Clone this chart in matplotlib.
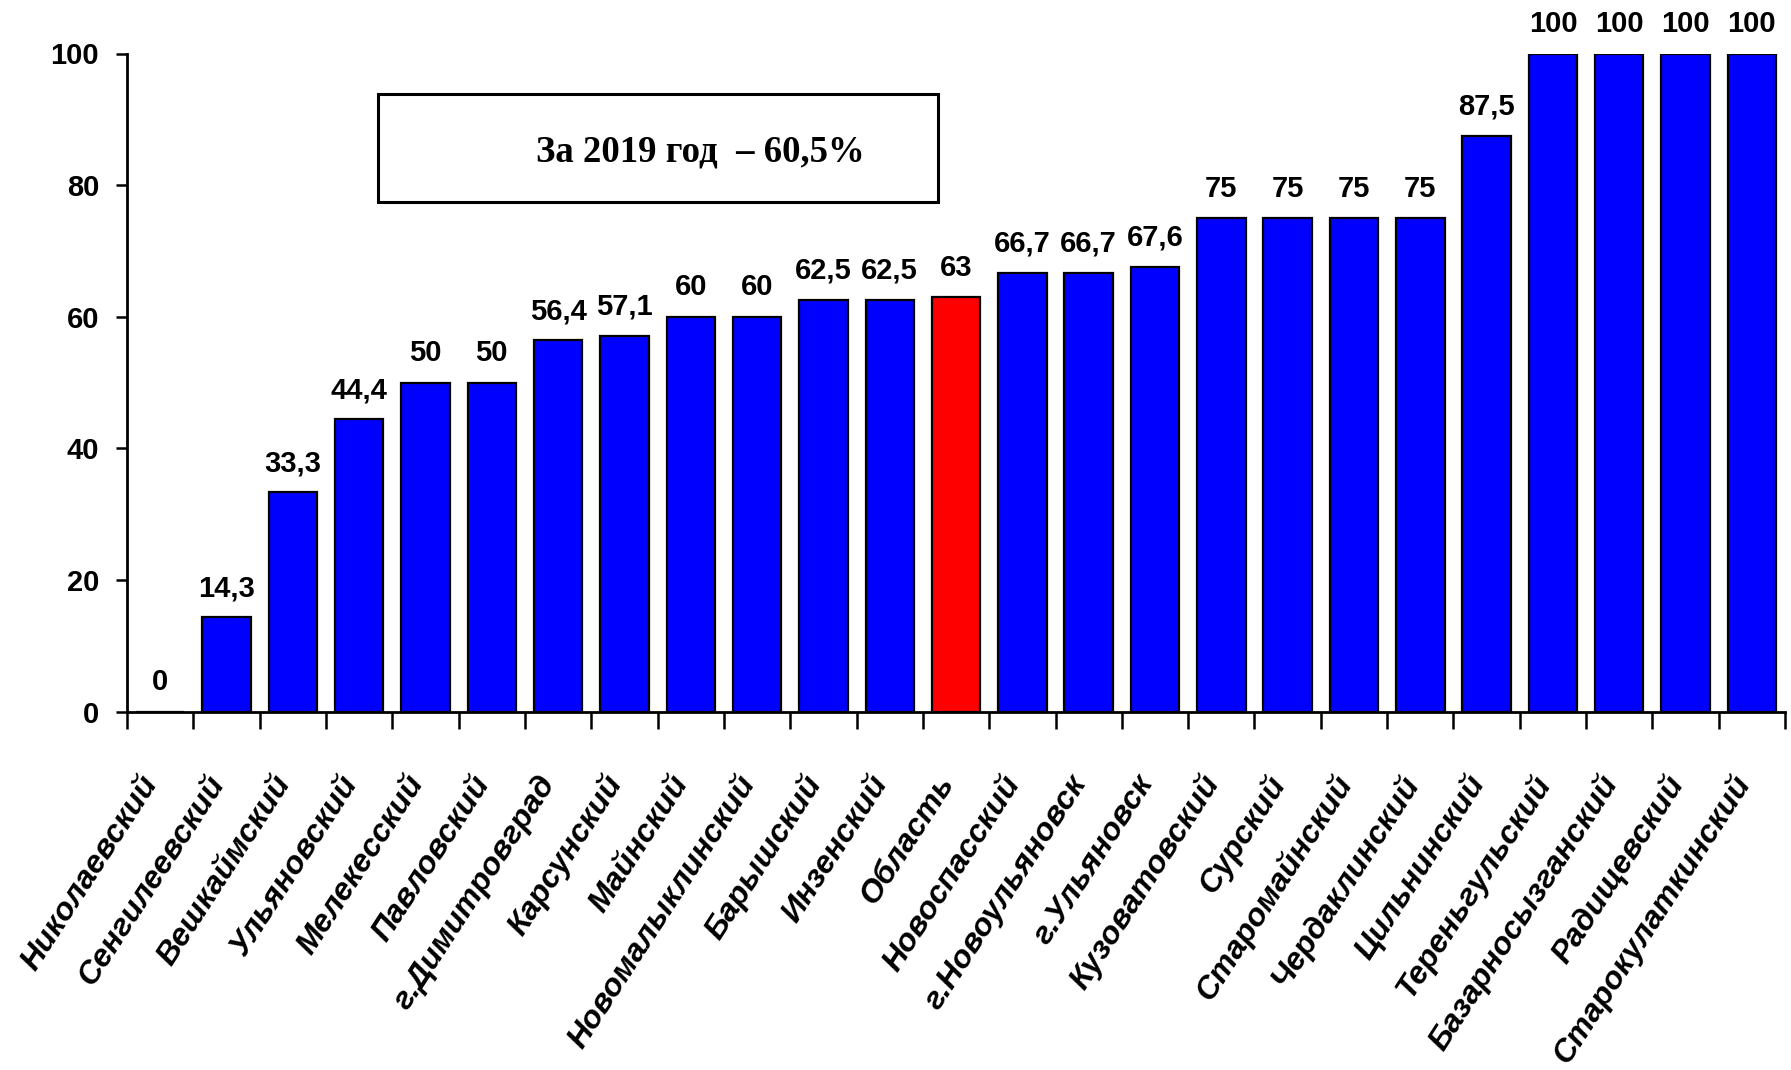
import numpy as np
import matplotlib
matplotlib.use("Agg")
import matplotlib.pyplot as plt
from matplotlib.transforms import ScaledTranslation

districts = ["Николаевский", "Сенгилеевский", "Вешкаймский", "Ульяновский",
             "Мелекесский", "Павловский", "г.Димитровград", "Карсунский",
             "Майнский", "Новомалыклинский", "Барышский", "Инзенский",
             "Область", "Новоспасский", "г.Новоульяновск", "г.Ульяновск",
             "Кузоватовский", "Сурский", "Старомайнский", "Чердаклинский",
             "Цильнинский", "Тереньгульский", "Базарносызганский",
             "Радищевский", "Старокулаткинский"]
shares = [0, 14.3, 33.3, 44.4, 50, 50, 56.4, 57.1, 60, 60, 62.5, 62.5, 63,
          66.7, 66.7, 67.6, 75, 75, 75, 75, 87.5, 100, 100, 100, 100]
region_name = "Область"
yticks = [0, 20, 40, 60, 80, 100]
summary = "За 2019 год  – 60,5%"

plt.rcParams["font.family"] = ["Liberation Sans", "DejaVu Sans"]

fig = plt.figure(figsize=(17.91, 10.70), dpi=100)
ax = fig.add_axes([0.0709, 0.335, 0.9258, 0.615])

x = np.arange(len(districts))
colors = ["#ff0000" if d == region_name else "#0000ff" for d in districts]
bars = ax.bar(x, shares, width=0.73, color=colors, edgecolor="black", linewidth=1.6)

for xi, v in zip(x, shares):
    txt = ("%g" % v).replace(".", ",")
    ax.annotate(txt, (xi, v), xytext=(0, 11), textcoords="offset points",
                ha="center", va="bottom", fontsize=21, fontweight="bold",
                annotation_clip=False)

ax.set_xlim(-0.5, len(districts) - 0.5)
ax.set_ylim(0, 100)
ax.set_yticks(yticks)
ax.set_yticklabels([str(t) for t in yticks], fontsize=21, fontweight="bold")
ax.tick_params(axis="y", length=8, width=1.8, pad=12)

ax.set_xticks(x)
ax.set_xticklabels(districts, rotation=57, ha="right", va="center",
                   rotation_mode="anchor", fontsize=23, fontweight="bold",
                   fontstyle="italic")
ax.tick_params(axis="x", which="major", length=0, pad=48)
ax.set_xticks(np.arange(-0.5, len(districts), 1), minor=True)
ax.tick_params(axis="x", which="minor", length=12, width=1.8)
shift = ScaledTranslation(-6 / 72, 0, fig.dpi_scale_trans)
for lbl in ax.get_xticklabels():
    lbl.set_transform(lbl.get_transform() + shift)

for side in ("top", "right"):
    ax.spines[side].set_visible(False)
for side in ("left", "bottom"):
    ax.spines[side].set_linewidth(2)

# summary box in the upper-left part of the plot
fig.patches.append(plt.Rectangle((378 / 1791, 1 - 202 / 1070), 560 / 1791, 108 / 1070,
                                 transform=fig.transFigure, fill=False,
                                 edgecolor="black", linewidth=2.2))
fig.text(700 / 1791, 1 - 152 / 1070, summary, ha="center", va="center",
         fontsize=26.5, fontweight="bold", family=["Liberation Serif", "DejaVu Serif"])

fig.savefig("out.png", dpi=100)
